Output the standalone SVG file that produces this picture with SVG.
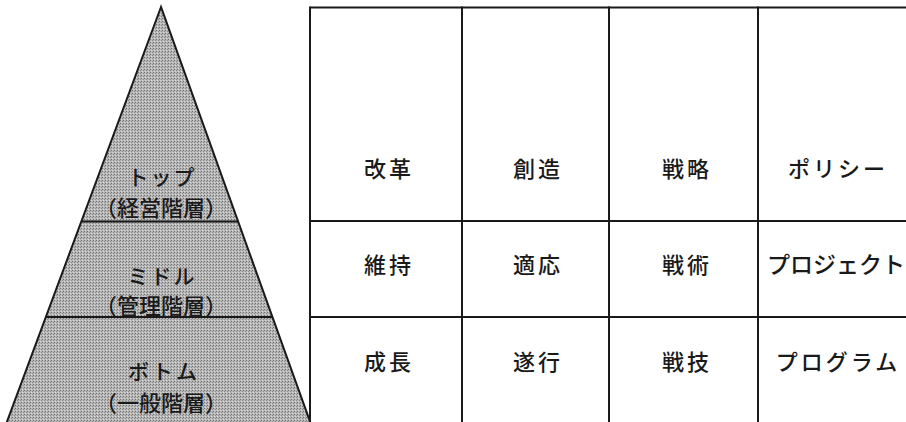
<svg xmlns="http://www.w3.org/2000/svg" width="906" height="422" viewBox="0 0 906 422">
<style>
text{font-family:"Noto Sans CJK JP","Noto Sans CJK SC",sans-serif;fill:#1a1a1a;dominant-baseline:central;text-anchor:middle;font-weight:500}
.p{font-size:22px}
.k{font-size:22px;letter-spacing:3px}
.line{stroke:#1a1a1a;stroke-width:2;fill:none}
.tri{stroke:#1a1a1a;stroke-width:2;fill:url(#dither)}
</style>
<defs>
<pattern id="dither" width="3" height="3" patternUnits="userSpaceOnUse">
<rect width="3" height="3" fill="#b8b8b8"/>
<rect x="0" y="0" width="1" height="1" fill="#6e6e6e"/>
<rect x="2" y="1" width="1" height="1" fill="#8a8a8a"/>
<rect x="1" y="2" width="1" height="1" fill="#d8d8d8"/>
</pattern>
</defs>
<rect width="906" height="422" fill="#ffffff"/>
<g id="pyramid">
<polygon points="161,7 5,427 312,427" class="tri"/>
<line x1="81" y1="221.5" x2="238.5" y2="221.5" class="line"/>
<line x1="46" y1="317" x2="272.5" y2="317" class="line"/>
</g>
<g id="top-level">
<text class="p" x="162" y="176" style="letter-spacing:2px;font-size:21px">トップ</text>
<text class="p" x="161" y="206">（経営階層）</text>
</g>
<g id="middle-level">
<text class="p" x="162" y="275" style="letter-spacing:2px;font-size:21px">ミドル</text>
<text class="p" x="161" y="304">（管理階層）</text>
</g>
<g id="bottom-level">
<text class="p" x="164" y="370" style="letter-spacing:3px;font-size:21px">ボトム</text>
<text class="p" x="161" y="401">（一般階層）</text>
</g>
<g id="table">
<line x1="310" y1="7.5" x2="906" y2="7.5" class="line"/>
<line x1="310" y1="221" x2="906" y2="221" class="line"/>
<line x1="310" y1="317" x2="906" y2="317" class="line"/>
<line x1="310" y1="6.5" x2="310" y2="422" class="line"/>
<line x1="462" y1="6.5" x2="462" y2="422" class="line"/>
<line x1="609" y1="6.5" x2="609" y2="422" class="line"/>
<line x1="758" y1="6.5" x2="758" y2="422" class="line"/>
</g>
<g id="row-top">
<text class="k" x="389" y="167">改革</text>
<text class="k" x="538" y="167">創造</text>
<text class="k" x="687" y="167">戦略</text>
<text class="k" x="838" y="167">ポリシー</text>
</g>
<g id="row-middle">
<text class="k" x="389" y="263">維持</text>
<text class="k" x="538" y="263">適応</text>
<text class="k" x="687" y="263">戦術</text>
<text class="k" x="836" y="263" style="letter-spacing:0px;font-size:23px">プロジェクト</text>
</g>
<g id="row-bottom">
<text class="k" x="389" y="360">成長</text>
<text class="k" x="538" y="360">遂行</text>
<text class="k" x="687" y="360">戦技</text>
<text class="k" x="838" y="360">プログラム</text>
</g>
</svg>
